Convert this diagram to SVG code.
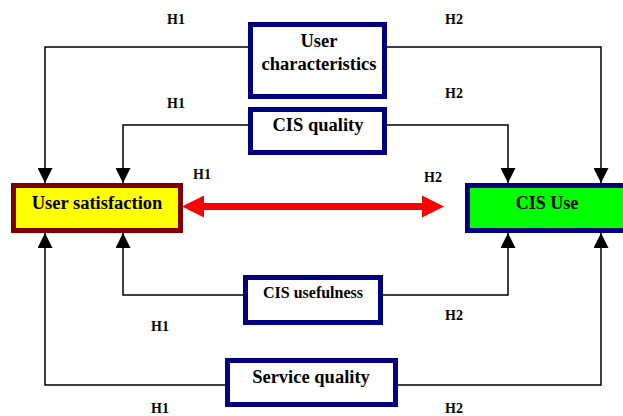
<svg xmlns="http://www.w3.org/2000/svg" width="623" height="416" viewBox="0 0 623 416">
<defs>
<style>
text{font-family:'Liberation Serif','Times New Roman',serif;font-weight:bold;fill:#000;text-anchor:middle}
.h{font-size:14px}
.n{font-size:18.5px}
.box{fill:#fff;stroke:#000080;stroke-width:5}
.c{fill:none;stroke:#000;stroke-width:1.5}
</style>
<marker id="ah" markerWidth="15" markerHeight="15" viewBox="0 0 15 15" refX="15" refY="7.5" orient="auto" markerUnits="userSpaceOnUse">
<path d="M0,0 L15,7.5 L0,15 Z" fill="#000"/>
</marker>
</defs>
<rect width="623" height="416" fill="#fff"/>
<g id="connectors">
<path class="c" d="M248,47 H45 V183" marker-end="url(#ah)"/>
<path class="c" d="M387,47 H601 V183" marker-end="url(#ah)"/>
<path class="c" d="M248,125 H123 V183" marker-end="url(#ah)"/>
<path class="c" d="M387,125 H508 V183" marker-end="url(#ah)"/>
<path class="c" d="M243,295 H123 V233" marker-end="url(#ah)"/>
<path class="c" d="M383,295 H508 V233" marker-end="url(#ah)"/>
<path class="c" d="M225,385 H45 V233" marker-end="url(#ah)"/>
<path class="c" d="M398,385 H601 V233" marker-end="url(#ah)"/>
<g id="red-arrow">
<rect x="200" y="203" width="226" height="7" fill="#ff0000"/>
<path d="M182,206.5 L204,195.5 L204,217.5 Z" fill="#ff0000"/>
<path d="M444,206.5 L422,195.5 L422,217.5 Z" fill="#ff0000"/>
</g>
</g>
<g id="user-satisfaction">
<rect x="13.5" y="185.5" width="167" height="45" fill="#ffff00" stroke="#800000" stroke-width="5"/>
<text class="n" x="97" y="209">User satisfaction</text>
</g>
<g id="cis-use">
<rect x="467.5" y="185.5" width="160" height="45" fill="#00ff00" stroke="#000080" stroke-width="5"/>
<text class="n" x="547" y="209" style="font-size:18px">CIS Use</text>
</g>
<g id="user-characteristics">
<rect class="box" x="250.5" y="24.5" width="134" height="72"/>
<text class="n" x="319" y="47">User</text>
<text class="n" x="319" y="70">characteristics</text>
</g>
<g id="cis-quality">
<rect class="box" x="250.5" y="109.5" width="134" height="43"/>
<text class="n" x="318" y="131">CIS quality</text>
</g>
<g id="cis-usefulness">
<rect class="box" x="245.5" y="277.5" width="135" height="45"/>
<text class="n" x="313" y="298" style="font-size:16px">CIS usefulness</text>
</g>
<g id="service-quality">
<rect class="box" x="227.5" y="360.5" width="168" height="44"/>
<text class="n" x="311" y="383">Service quality</text>
</g>
<g id="labels">
<text class="h" x="176" y="24">H1</text>
<text class="h" x="454" y="24">H2</text>
<text class="h" x="176" y="108">H1</text>
<text class="h" x="454" y="98">H2</text>
<text class="h" x="202" y="179">H1</text>
<text class="h" x="433" y="182">H2</text>
<text class="h" x="160" y="331">H1</text>
<text class="h" x="454" y="320">H2</text>
<text class="h" x="160" y="413">H1</text>
<text class="h" x="454" y="413">H2</text>
</g>
</svg>
